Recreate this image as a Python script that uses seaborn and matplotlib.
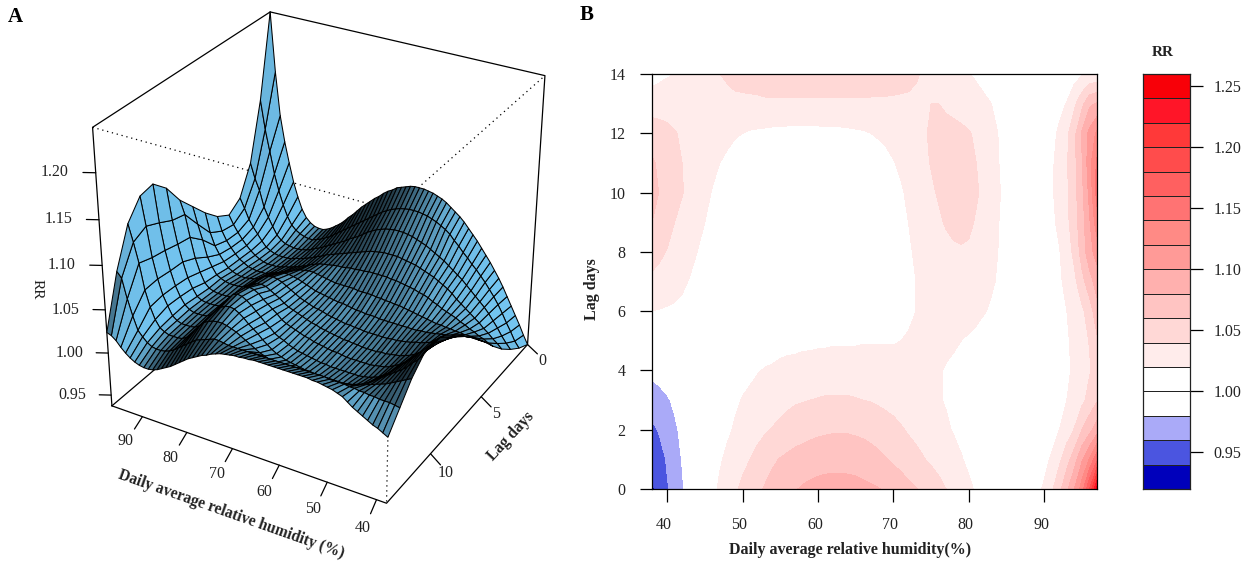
import numpy as np
import matplotlib
matplotlib.use('Agg')
import matplotlib.pyplot as plt
import seaborn as sns
from matplotlib.colors import ListedColormap, to_rgb
from matplotlib.transforms import ScaledTranslation
from mpl_toolkits.mplot3d import proj3d

HUMIDITY = list(range(38, 98))
LAG = list(range(0, 15))

RR_LAG_00 = [.937,.947,.958,.968,.978,.988,.998,1.007,1.015,1.023,1.030,1.037,1.044,1.050,1.056,1.062,1.067,1.071,1.075,1.079,1.082,1.084,1.086,1.087,1.088,1.088,1.088,1.087,1.085,1.083,1.081,1.077,1.074,1.070,1.065,1.061,1.056,1.051,1.046,1.040,1.034,1.029,1.023,1.018,1.014,1.010,1.007,1.005,1.005,1.006,1.009,1.014,1.023,1.037,1.054,1.076,1.100,1.130,1.180,1.247]
RR_LAG_01 = [.945,.952,.962,.971,.981,.990,.998,1.005,1.012,1.018,1.024,1.029,1.035,1.040,1.046,1.051,1.057,1.061,1.064,1.067,1.069,1.071,1.072,1.073,1.073,1.073,1.072,1.071,1.069,1.067,1.064,1.061,1.057,1.053,1.049,1.045,1.041,1.037,1.033,1.029,1.025,1.021,1.017,1.013,1.010,1.007,1.005,1.003,1.003,1.004,1.006,1.009,1.014,1.023,1.036,1.052,1.071,1.097,1.122,1.155]
RR_LAG_02 = [.956,.962,.969,.977,.984,.991,.997,1.002,1.007,1.012,1.017,1.022,1.026,1.030,1.034,1.038,1.041,1.044,1.047,1.050,1.052,1.054,1.056,1.057,1.058,1.058,1.058,1.057,1.056,1.054,1.052,1.049,1.046,1.042,1.038,1.035,1.032,1.028,1.025,1.022,1.019,1.016,1.013,1.010,1.008,1.005,1.003,1.002,1.001,1.001,1.002,1.003,1.006,1.011,1.020,1.030,1.041,1.060,1.073,1.090]
RR_LAG_03 = [.969,.974,.978,.983,.987,.992,.996,1.000,1.004,1.008,1.012,1.017,1.021,1.024,1.027,1.030,1.032,1.034,1.036,1.038,1.039,1.040,1.041,1.042,1.042,1.042,1.042,1.041,1.040,1.039,1.037,1.035,1.033,1.031,1.029,1.027,1.025,1.023,1.021,1.019,1.016,1.014,1.011,1.009,1.007,1.005,1.004,1.002,1.001,1.001,1.001,1.002,1.004,1.007,1.013,1.020,1.027,1.035,1.047,1.058]
RR_LAG_04 = [.985,.987,.990,.992,.995,.997,1.000,1.002,1.005,1.007,1.009,1.011,1.014,1.016,1.019,1.021,1.022,1.024,1.025,1.026,1.027,1.028,1.028,1.029,1.029,1.029,1.029,1.029,1.028,1.028,1.027,1.027,1.026,1.025,1.025,1.024,1.023,1.022,1.021,1.019,1.017,1.014,1.012,1.010,1.008,1.006,1.005,1.003,1.002,1.002,1.002,1.003,1.005,1.008,1.012,1.017,1.023,1.030,1.038,1.048]
RR_LAG_05 = [1.003,1.003,1.004,1.004,1.004,1.005,1.005,1.006,1.006,1.007,1.007,1.008,1.009,1.010,1.011,1.012,1.013,1.014,1.015,1.015,1.016,1.016,1.017,1.017,1.018,1.018,1.018,1.018,1.019,1.019,1.019,1.019,1.019,1.020,1.021,1.022,1.023,1.024,1.024,1.023,1.022,1.020,1.018,1.016,1.013,1.011,1.009,1.007,1.005,1.005,1.005,1.006,1.007,1.010,1.013,1.018,1.024,1.031,1.041,1.057]
RR_LAG_06 = [1.020,1.019,1.018,1.017,1.016,1.014,1.013,1.012,1.011,1.010,1.009,1.009,1.008,1.008,1.008,1.008,1.008,1.008,1.008,1.008,1.008,1.009,1.009,1.009,1.010,1.010,1.011,1.012,1.013,1.013,1.014,1.015,1.016,1.017,1.018,1.020,1.022,1.024,1.026,1.027,1.028,1.028,1.026,1.024,1.021,1.018,1.015,1.012,1.010,1.009,1.008,1.008,1.009,1.011,1.014,1.020,1.027,1.036,1.050,1.072]
RR_LAG_07 = [1.036,1.033,1.030,1.027,1.023,1.019,1.017,1.015,1.013,1.011,1.010,1.008,1.007,1.006,1.005,1.005,1.004,1.004,1.004,1.004,1.004,1.004,1.005,1.005,1.006,1.006,1.007,1.008,1.009,1.010,1.012,1.013,1.014,1.016,1.018,1.020,1.023,1.026,1.029,1.032,1.034,1.035,1.034,1.032,1.028,1.022,1.018,1.015,1.012,1.011,1.011,1.011,1.012,1.014,1.017,1.025,1.035,1.054,1.071,1.090]
RR_LAG_08 = [1.048,1.044,1.039,1.035,1.030,1.025,1.020,1.016,1.012,1.009,1.007,1.005,1.004,1.003,1.002,1.002,1.001,1.001,1.001,1.001,1.002,1.002,1.003,1.003,1.004,1.005,1.006,1.007,1.008,1.010,1.011,1.013,1.015,1.017,1.019,1.021,1.024,1.028,1.031,1.034,1.037,1.038,1.037,1.035,1.031,1.026,1.019,1.015,1.012,1.011,1.011,1.011,1.012,1.014,1.019,1.030,1.045,1.068,1.093,1.108]
RR_LAG_09 = [1.060,1.056,1.048,1.040,1.034,1.029,1.024,1.020,1.015,1.011,1.008,1.005,1.003,1.002,1.001,1.000,1.000,1.000,1.000,1.000,1.000,1.001,1.002,1.002,1.003,1.004,1.005,1.006,1.008,1.009,1.011,1.013,1.015,1.017,1.020,1.025,1.029,1.033,1.037,1.042,1.045,1.046,1.044,1.038,1.033,1.026,1.020,1.016,1.013,1.012,1.012,1.012,1.013,1.016,1.024,1.035,1.052,1.071,1.097,1.132]
RR_LAG_10 = [1.067,1.059,1.053,1.047,1.041,1.035,1.030,1.025,1.019,1.014,1.010,1.006,1.004,1.002,1.001,1.000,1.000,1.000,1.000,1.000,1.000,1.000,1.001,1.001,1.002,1.003,1.004,1.005,1.006,1.008,1.010,1.013,1.015,1.018,1.023,1.027,1.032,1.037,1.042,1.046,1.049,1.050,1.048,1.042,1.036,1.029,1.021,1.016,1.013,1.012,1.012,1.012,1.014,1.018,1.026,1.037,1.053,1.075,1.105,1.147]
RR_LAG_11 = [1.063,1.056,1.051,1.045,1.040,1.036,1.032,1.028,1.024,1.020,1.016,1.012,1.009,1.007,1.005,1.004,1.003,1.003,1.003,1.003,1.003,1.003,1.003,1.004,1.004,1.005,1.006,1.007,1.008,1.010,1.012,1.015,1.019,1.023,1.028,1.032,1.036,1.041,1.045,1.048,1.049,1.048,1.045,1.040,1.034,1.027,1.020,1.015,1.012,1.011,1.011,1.011,1.013,1.017,1.027,1.038,1.055,1.078,1.112,1.144]
RR_LAG_12 = [1.050,1.047,1.044,1.041,1.038,1.035,1.033,1.031,1.029,1.027,1.025,1.022,1.020,1.018,1.017,1.016,1.015,1.015,1.014,1.014,1.014,1.014,1.014,1.015,1.015,1.015,1.016,1.017,1.018,1.020,1.022,1.024,1.027,1.030,1.033,1.036,1.039,1.041,1.043,1.044,1.044,1.043,1.041,1.038,1.032,1.026,1.019,1.014,1.011,1.010,1.010,1.010,1.012,1.015,1.023,1.036,1.054,1.083,1.105,1.124]
RR_LAG_13 = [1.031,1.032,1.033,1.033,1.033,1.034,1.034,1.035,1.035,1.036,1.036,1.037,1.037,1.037,1.037,1.038,1.038,1.038,1.038,1.038,1.038,1.038,1.038,1.038,1.038,1.038,1.038,1.038,1.038,1.038,1.038,1.038,1.038,1.038,1.038,1.038,1.039,1.040,1.040,1.038,1.036,1.034,1.032,1.028,1.024,1.020,1.016,1.012,1.009,1.007,1.006,1.006,1.007,1.010,1.015,1.021,1.036,1.054,1.076,1.082]
RR_LAG_14 = [1.012,1.015,1.018,1.020,1.023,1.026,1.029,1.032,1.036,1.040,1.042,1.044,1.045,1.046,1.047,1.047,1.048,1.048,1.048,1.048,1.048,1.048,1.048,1.048,1.048,1.048,1.048,1.048,1.047,1.047,1.046,1.046,1.045,1.044,1.043,1.041,1.039,1.036,1.034,1.031,1.028,1.025,1.021,1.017,1.013,1.009,1.006,1.003,1.000,.998,.997,.997,.998,1.000,1.003,1.007,1.012,1.018,1.022,1.024]

RR_ROWS = [RR_LAG_00, RR_LAG_01, RR_LAG_02, RR_LAG_03, RR_LAG_04, RR_LAG_05, RR_LAG_06, RR_LAG_07,
           RR_LAG_08, RR_LAG_09, RR_LAG_10, RR_LAG_11, RR_LAG_12, RR_LAG_13, RR_LAG_14]

Z_BOTTOM = 0.937
Z_TOP = 1.247
Z_TICKS = [0.95, 1.00, 1.05, 1.10, 1.15, 1.20]
HUMIDITY_TICKS = [40, 50, 60, 70, 80, 90]
LAG_TICKS_3D = [0, 5, 10]
LAG_TICKS_2D = [0, 2, 4, 6, 8, 10, 12, 14]

BAND_EDGES = [0.92, 0.94, 0.96, 0.98, 1.00, 1.02, 1.04, 1.06, 1.08, 1.10, 1.12, 1.14, 1.16, 1.18, 1.20, 1.22, 1.24, 1.26]
BAND_COLOURS = ['#0000BB', '#4B55E0', '#AAAAF8', '#FFFFFF', '#FFFFFF', '#FFECEB', '#FFD8D6', '#FFC4C2', '#FFB0AE',
                '#FF9A97', '#FF8A85', '#FF7373', '#FF6060', '#FF4C4C', '#FF3939', '#FF1528', '#F80008']
BAR_TICKS = [0.95, 1.00, 1.05, 1.10, 1.15, 1.20, 1.25]

sns.set_theme(style='white')
plt.rcParams['font.family'] = ['Liberation Serif', 'DejaVu Sans']

W, H = 1258, 562
TEXT = '#222222'
rr = np.array(RR_ROWS)
hum = np.array(HUMIDITY)
lag = np.array(LAG)
fig = plt.figure(figsize=(W / 100, H / 100), dpi=100)

# panel A
BOX_X, BOX_Y = 1.0055, 1.0004
ax3 = fig.add_axes([51.96 / W, 45.61 / H, 531.67 / W, 531.67 / H], projection='3d', computed_zorder=False)
ax3.view_init(elev=30.052, azim=120.131)
ax3.set_proj_type('persp', focal_length=0.6503)
ax3.set_box_aspect((BOX_X, BOX_Y, 1))
ax3.set_xticks([])
ax3.set_yticks([])
ax3.set_zticks([])
ax3.set_axis_off()
ax3.patch.set_visible(False)

gx, gy = np.meshgrid(hum, lag)
# shading on the scaled box, like persp does
nx = (hum - 38) / 59 * BOX_X
ny = lag / 14 * BOX_Y
nz = (rr - Z_BOTTOM) / (Z_TOP - Z_BOTTOM)
dzdx = (np.diff(nz, axis=1)[:-1, :] + np.diff(nz, axis=1)[1:, :]) / 2 / np.diff(nx)[0]
dzdy = (np.diff(nz, axis=0)[:, :-1] + np.diff(nz, axis=0)[:, 1:]) / 2 / np.diff(ny)[0]
normal = np.dstack([-dzdx, -dzdy, np.ones_like(dzdx)])
normal = normal / np.linalg.norm(normal, axis=2, keepdims=True)
light = np.array([-0.9, 0.02, 0.45])
light = light / np.linalg.norm(light)
look = (normal * light).sum(axis=2)
bright = np.clip((1 + look) / 2, 0, 1) ** 1.5
fc = np.ones(bright.shape + (4,))
fc[..., :3] = bright[..., None] * np.array(to_rgb('#74C6F2'))

box_solid = [[(97, 14, Z_BOTTOM), (97, 14, Z_TOP), (97, 0, Z_TOP), (38, 0, Z_TOP), (38, 0, Z_BOTTOM), (38, 14, Z_BOTTOM), (97, 14, Z_BOTTOM)],
             [(97, 14, Z_BOTTOM), (97, 0, Z_BOTTOM), (38, 0, Z_BOTTOM)], [(97, 0, Z_TOP), (97, 0, Z_BOTTOM)]]
box_dotted = [[(97, 14, Z_TOP), (38, 14, Z_TOP), (38, 0, Z_TOP)], [(38, 14, Z_TOP), (38, 14, Z_BOTTOM)]]
for seg in box_solid:
    xs, ys, zs = zip(*seg)
    ax3.plot(xs, ys, zs, color='black', lw=0.9, zorder=1, solid_capstyle='round')
for seg in box_dotted:
    xs, ys, zs = zip(*seg)
    ax3.plot(xs, ys, zs, color='black', lw=0.9, ls=(0, (1, 3)), zorder=1)

surf = ax3.plot_surface(gx, gy, rr, rstride=1, cstride=1, facecolors=fc, shade=False, zorder=2)
surf.set_edgecolor('black')
surf.set_linewidth(0.75)

tick_kw = dict(color='black', lw=0.9, zorder=1)
for z in Z_TICKS:
    ax3.plot([97, 99.0], [14, 14.25], [z, z], **tick_kw)
for h in HUMIDITY_TICKS:
    ax3.plot([h, h - 1.0], [14, 14.95], [Z_BOTTOM, Z_BOTTOM], **tick_kw)
for l in LAG_TICKS_3D:
    ax3.plot([38, 34.9], [l, l + 0.5], [Z_BOTTOM, Z_BOTTOM], **tick_kw)
ax3.set_xlim(38, 97)
ax3.set_ylim(0, 14)
ax3.set_zlim(Z_BOTTOM, Z_TOP)


def label_3d(x, y, z, s):
    # plain 2D text at the projected place
    u, v, _ = proj3d.proj_transform(x, y, z, ax3.get_proj())
    ax3.text2D(u, v, s, transform=ax3.transData, fontsize=11.5, ha='center', va='center', color=TEXT)


for z in Z_TICKS:
    label_3d(103.35, 14.85, z, f'{z:.2f}')
for h in HUMIDITY_TICKS:
    label_3d(h - 1.75, 15.9, Z_BOTTOM, str(h))
for l in LAG_TICKS_3D:
    label_3d(33.1, l + 0.9, Z_BOTTOM, str(l))

fig.text(231 / W, 1 - 514.5 / H, 'Daily average relative humidity (%)', fontsize=11.2, fontweight='bold', rotation=-19.5,
         ha='center', va='center', color=TEXT)
fig.text(511 / W, 1 - 436 / H, 'Lag days', fontsize=11.3, fontweight='bold', rotation=47, ha='center', va='center', color=TEXT)
fig.text(36.6 / W, 1 - 289 / H, 'RR', fontsize=11, rotation=-90, ha='center', va='center', color=TEXT)
fig.text(15 / W, 1 - 17 / H, 'A', fontsize=15, fontweight='bold', ha='center', va='center', color='black')
fig.text(587 / W, 1 - 15 / H, 'B', fontsize=15, fontweight='bold', ha='center', va='center', color='black')

# panel B
ax2 = fig.add_axes([652 / W, 1 - 489 / H, 445 / W, 415 / H])
ax2.contourf(hum, lag, rr, levels=BAND_EDGES, colors=BAND_COLOURS)
ax2.set_xlim(38, 97)
ax2.set_ylim(0, 14)
ax2.set_xticks(HUMIDITY_TICKS)
ax2.set_yticks(LAG_TICKS_2D)
ax2.tick_params(length=9, width=0.9, color='black', labelsize=11.5, left=True, bottom=True, labelcolor=TEXT)
ax2.tick_params(axis='x', pad=11)
ax2.tick_params(axis='y', pad=10)
for lab in ax2.get_xticklabels():
    lab.set_transform(lab.get_transform() + ScaledTranslation(-0.03, 0, fig.dpi_scale_trans))
for sp in ax2.spines.values():
    sp.set_color('black')
    sp.set_linewidth(0.9)
ax2.set_xlabel('Daily average relative humidity(%)', fontsize=11.5, fontweight='bold', color=TEXT)
ax2.xaxis.set_label_coords((850 - 652) / 445, -(550 - 489) / 415, transform=ax2.transAxes)
ax2.xaxis.label.set_verticalalignment('center')
ax2.set_ylabel('Lag days', fontsize=11.5, fontweight='bold', color=TEXT)
ax2.yaxis.set_label_coords(-(652 - 592) / 445, (489 - 289) / 415, transform=ax2.transAxes)
ax2.yaxis.label.set_verticalalignment('center')

# colour key
cax = fig.add_axes([1143 / W, 1 - 489 / H, 47 / W, 415 / H])
band_mid = np.array(BAND_EDGES[:-1]) + 0.01
sns.heatmap(band_mid[::-1].reshape(-1, 1), ax=cax, cmap=ListedColormap(BAND_COLOURS), vmin=0.92, vmax=1.26, cbar=False,
            linewidths=0.6, linecolor='#222222', xticklabels=False, yticklabels=False)
for sp in cax.spines.values():
    sp.set_visible(True)
    sp.set_color('#222222')
    sp.set_linewidth(0.9)
cax.yaxis.tick_right()
cax.set_yticks([(1.26 - t) / 0.02 for t in BAR_TICKS])
cax.set_yticklabels([f'{t:.2f}' for t in BAR_TICKS], rotation=0)
cax.tick_params(axis='y', length=9, width=0.9, color='black', labelsize=11.5, pad=8, right=True, labelcolor=TEXT)
fig.text(1163 / W, 1 - 52 / H, 'RR', fontsize=11, fontweight='bold', ha='center', va='center', color=TEXT)

fig.savefig('out.png', dpi=100)
